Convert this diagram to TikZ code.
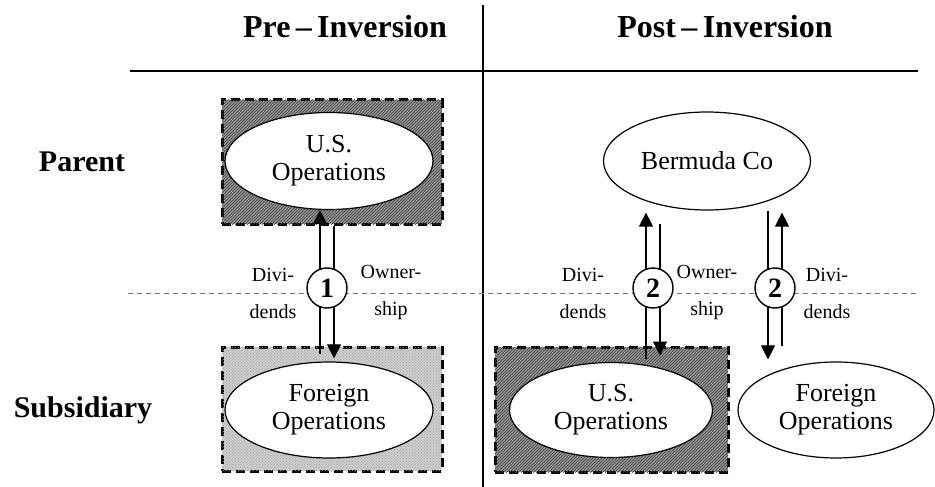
\documentclass[tikz,border=0pt]{standalone}
\usepackage{fontspec}
\setmainfont{Liberation Serif}
\usetikzlibrary{shapes.geometric,arrows.meta,patterns}
\begin{document}
\begin{tikzpicture}[x=1pt,y=-1pt,
  title/.style={font=\bfseries\fontsize{32}{34}\selectfont, inner sep=0pt},
  rowlabel/.style={font=\bfseries\fontsize{30}{32}\selectfont, inner sep=0pt},
  opbox/.style={rectangle, draw=black, line width=3pt, dash pattern=on 9pt off 5pt, inner sep=0pt},
  darkbox/.style={opbox, fill=black!42, postaction={pattern=north east lines, pattern color=black!75}},
  lightbox/.style={opbox, fill=black!20, postaction={pattern=crosshatch dots, pattern color=black!35}},
  entity/.style={ellipse, draw=black, line width=1.2pt, fill=white, inner sep=0pt,
    align=center, font=\fontsize{26}{28}\selectfont},
  flowlabel/.style={align=center, inner sep=0pt, font=\fontsize{20}{37}\selectfont},
  stepcirc/.style={circle, draw=black, line width=1.4pt, fill=white, minimum size=40pt, inner sep=0pt,
    font=\bfseries\fontsize{28}{30}\selectfont},
  flow/.style={line width=1.1pt},
  arr/.style={flow, -{Triangle[width=14pt,length=14pt]}}
]
\useasboundingbox (0,0) rectangle (935,487);

% frame lines
\coordinate (vtop) at (483,5);
\coordinate (vbot) at (483,487);
\coordinate (hl) at (130,71);
\coordinate (hr) at (918,71);
\coordinate (dl) at (128,293);
\coordinate (dr) at (918,293);
\draw[line width=1.3pt] (vtop) -- (vbot);
\draw[line width=1.5pt] (hl) -- (hr);
\draw[black!55, line width=0.8pt, dash pattern=on 5pt off 4pt] (dl) -- (dr);

% headings
\node[title] (pre) at (345,27) {Pre\,–\,Inversion};
\node[title] (post) at (725,27) {Post\,–\,Inversion};
\node[rowlabel] (parent) at (82,162) {Parent};
\node[rowlabel] (sub) at (83,410) {Subsidiary};

% boxes
\node[darkbox, minimum width=220pt, minimum height=124pt] (boxUL) at (332,162) {};
\node[lightbox, minimum width=220pt, minimum height=124pt] (boxLL) at (332,409) {};
\node[darkbox, minimum width=233pt, minimum height=125pt] (boxR) at (611.5,409.5) {};

% entities
\node[entity, minimum width=208pt, minimum height=97pt] (usL) at (329,161) {U.S.\\Operations};
\node[entity, minimum width=208pt, minimum height=96pt] (fL) at (329,410) {Foreign\\Operations};
\node[entity, minimum width=207pt, minimum height=98pt] (berm) at (707,161) {Bermuda Co};
\node[entity, minimum width=203pt, minimum height=95pt] (usR) at (611,410) {U.S.\\Operations};
\node[entity, minimum width=196pt, minimum height=96pt] (fR) at (836,410) {Foreign\\Operations};

% step positions
\coordinate (p1) at (327,288);
\coordinate (p2) at (653,288);
\coordinate (p3) at (775,288);

% pre-inversion flows
\draw[arr] ([xshift=-7pt,yshift=-8pt]p1 |- boxLL.north) -- ([xshift=-7pt]p1 |- usL.south);
\draw[arr] ([xshift=7pt]p1 |- boxUL.south) -- ([xshift=7pt,yshift=3pt]p1 |- fL.north);

% post-inversion flows
\draw[arr] ([xshift=-7pt,yshift=-13pt]p2 |- boxR.north) -- ([xshift=-7pt,yshift=-2pt]p2 |- berm.south);
\draw[arr] ([xshift=7pt,yshift=-13pt]p2 |- berm.south) -- ([xshift=7pt,yshift=-10pt]p2 |- boxR.north);
\draw[arr] ([xshift=-7pt]p3 |- berm.south) -- ([xshift=-7pt,yshift=2pt]p3 |- fR.north);
\draw[arr] ([xshift=7pt,yshift=15pt]p3 |- fR.north) -- ([xshift=7pt,yshift=-2pt]p3 |- berm.south);

% step circles
\node[stepcirc] (c1) at (p1) {1};
\node[stepcirc] (c2) at (p2) {2};
\node[stepcirc] (c3) at (p3) {2};

% flow labels
\node[flowlabel] (d1) at (273,293) {Divi-\\dends};
\node[flowlabel] (o1) at (391,293) {Owner-\\ship};
\node[flowlabel] (d2) at (583,293) {Divi-\\dends};
\node[flowlabel] (o2) at (707,293) {Owner-\\ship};
\node[flowlabel] (d3) at (827,293) {Divi-\\dends};
\end{tikzpicture}
\end{document}
